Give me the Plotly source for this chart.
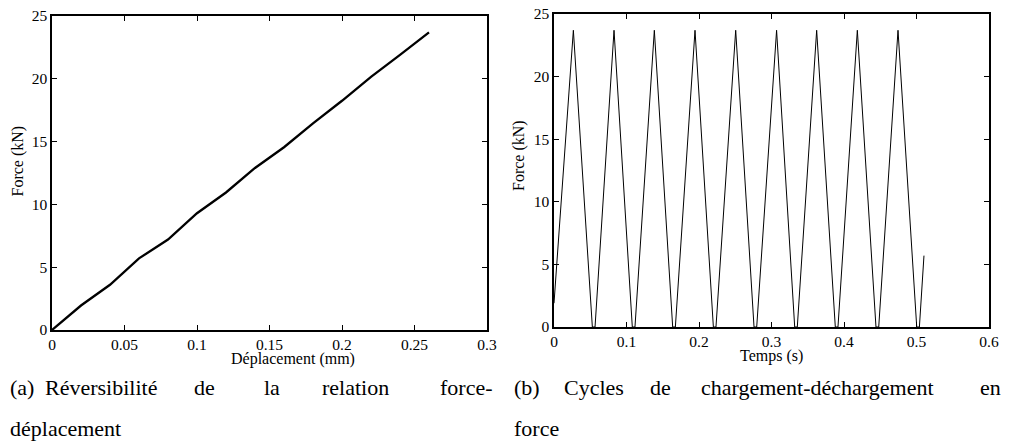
import plotly.graph_objects as go

# ---- data (a): force vs displacement ----
disp_mm = [0, 0.02, 0.04, 0.06, 0.08, 0.10, 0.12, 0.14, 0.16, 0.18, 0.20, 0.22, 0.24, 0.26]
force_a_kN = [0, 1.95, 3.6, 5.7, 7.2, 9.3, 10.95, 12.9, 14.55, 16.45, 18.25, 20.15, 21.9, 23.7]

# ---- data (b): force vs time ----
time_s = [0, 0.0267, 0.0529, 0.0566, 0.0828, 0.1080, 0.1117, 0.1384, 0.1637, 0.1674,
          0.1945, 0.2198, 0.2234, 0.2506, 0.2759, 0.2796, 0.3070, 0.3320, 0.3356,
          0.3623, 0.3880, 0.3917, 0.4184, 0.4441, 0.4479, 0.4745, 0.5003, 0.5040, 0.5103]
force_b_kN = [1.9, 23.7, 0, 0, 23.7, 0, 0, 23.7, 0, 0,
              23.7, 0, 0, 23.7, 0, 0, 23.7, 0, 0,
              23.7, 0, 0, 23.7, 0, 0, 23.7, 0, 0, 5.7]

x_ticks_a = [0, 0.05, 0.1, 0.15, 0.2, 0.25, 0.3]
x_ticks_b = [0, 0.1, 0.2, 0.3, 0.4, 0.5, 0.6]
y_ticks = [0, 5, 10, 15, 20, 25]

# the page body has an 8px margin, so the figure is drawn 8px in from the window corner
OFF = 8
W, H = 1010 - OFF, 447 - OFF
TICKFONT = dict(family="Liberation Serif", size=15.5, color="black")
TITLEFONT = dict(family="Liberation Serif", size=16, color="black")
CAPFONT = dict(family="Liberation Serif", size=22, color="black")

fig = go.Figure()
fig.add_trace(go.Scatter(x=disp_mm, y=force_a_kN, mode="lines",
                         line=dict(color="black", width=2.3), xaxis="x", yaxis="y",
                         showlegend=False))
fig.add_trace(go.Scatter(x=time_s, y=force_b_kN, mode="lines",
                         line=dict(color="black", width=1), xaxis="x2", yaxis="y2",
                         showlegend=False))

def px_x(p):
    return max(p - OFF, 0) / W

def px_y(p):
    return 1 - (p - OFF) / H

axis_common = dict(showline=True, linecolor="black", linewidth=1.5, mirror="ticks",
                   ticks="inside", ticklen=5, tickwidth=1, tickcolor="black",
                   showgrid=False, zeroline=False, tickfont=TICKFONT, fixedrange=True,
                   automargin=False, ticklabeloverflow="allow")

fig.update_layout(
    template="none",
    width=W, height=H, margin=dict(l=0, r=0, t=0, b=0, pad=0),
    paper_bgcolor="white", plot_bgcolor="white",
    xaxis=dict(domain=[px_x(52), px_x(487)], range=[0, 0.3], tickvals=x_ticks_a,
               anchor="y", **axis_common),
    yaxis=dict(domain=[px_y(330), px_y(16)], range=[0, 25], tickvals=y_ticks,
               anchor="x", **axis_common),
    xaxis2=dict(domain=[px_x(554), px_x(989)], range=[0, 0.6], tickvals=x_ticks_b,
                anchor="y2", **axis_common),
    yaxis2=dict(domain=[px_y(327), px_y(14)], range=[0, 25], tickvals=y_ticks,
                anchor="x2", **axis_common),
)

ann = []
# axis titles
ann.append(dict(text="Déplacement (mm)", x=px_x(293), y=px_y(359), xref="paper", yref="paper",
                showarrow=False, font=TITLEFONT, xanchor="center", yanchor="middle"))
ann.append(dict(text="Temps (s)", x=px_x(771), y=px_y(356), xref="paper", yref="paper",
                showarrow=False, font=TITLEFONT, xanchor="center", yanchor="middle"))
ann.append(dict(text="Force (kN)", x=px_x(17.5), y=px_y(161), xref="paper", yref="paper",
                showarrow=False, font=TITLEFONT, textangle=-90, xanchor="center", yanchor="middle"))
ann.append(dict(text="Force (kN)", x=px_x(519), y=px_y(156), xref="paper", yref="paper",
                showarrow=False, font=TITLEFONT, textangle=-90, xanchor="center", yanchor="middle"))

# captions (justified first lines)
cap_a_words = [("(a)", 8, "left"), ("Réversibilité", 43, "left"), ("de", 192, "left"),
               ("la", 262, "left"), ("relation", 320, "left"), ("force-", 495, "right")]
for w, xp, anc in cap_a_words:
    ann.append(dict(text=w, x=px_x(xp), y=px_y(387), xref="paper", yref="paper",
                    showarrow=False, font=CAPFONT, xanchor=anc, yanchor="middle"))
ann.append(dict(text="déplacement", x=px_x(8), y=px_y(428), xref="paper", yref="paper",
                showarrow=False, font=CAPFONT, xanchor="left", yanchor="middle"))

cap_b_words = [("(b)", 512, "left"), ("Cycles", 562, "left"), ("de", 648, "left"),
               ("chargement-déchargement", 699, "left"), ("en", 1003, "right")]
for w, xp, anc in cap_b_words:
    ann.append(dict(text=w, x=px_x(xp), y=px_y(387), xref="paper", yref="paper",
                    showarrow=False, font=CAPFONT, xanchor=anc, yanchor="middle"))
ann.append(dict(text="force", x=px_x(512), y=px_y(428), xref="paper", yref="paper",
                showarrow=False, font=CAPFONT, xanchor="left", yanchor="middle"))

fig.update_layout(annotations=ann)
fig.write_html("out.html")
